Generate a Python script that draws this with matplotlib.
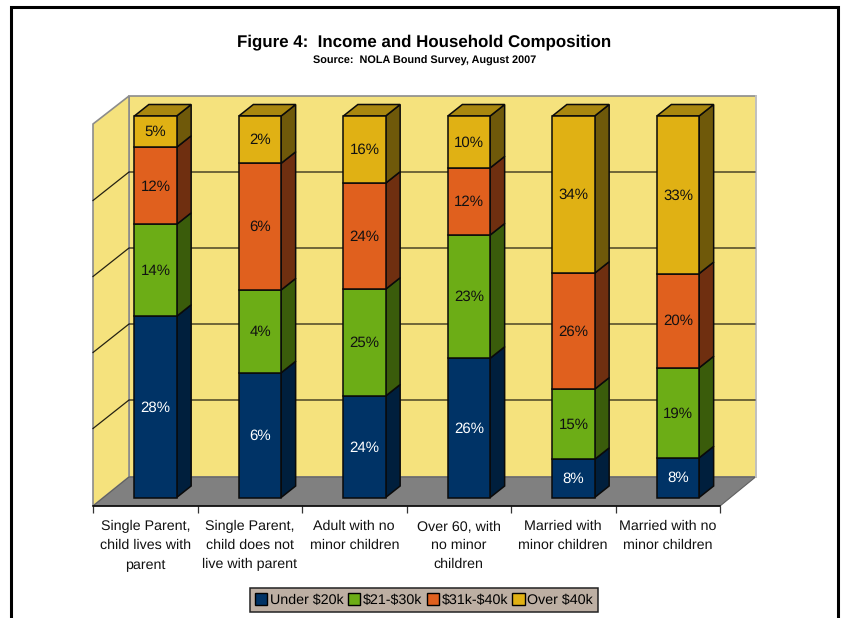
import matplotlib
matplotlib.use("Agg")
import matplotlib.pyplot as plt
from matplotlib.patches import Polygon, Patch

plt.rcParams['font.family'] = ['Liberation Sans', 'DejaVu Sans']
plt.rcParams['text.parse_math'] = False
plt.rcParams['text.hinting'] = 'no_hinting'
plt.rcParams['text.hinting_factor'] = 8

categories = ["Single Parent,\nchild lives with\nparent",
              "Single Parent,\nchild does not\nlive with parent",
              "Adult with no\nminor children",
              "Over 60, with\nno minor\nchildren",
              "Married with\nminor children",
              "Married with no\nminor children"]
series_names = ["Under $20k", "$21-$30k", "$31k-$40k", "Over $40k"]
# bar heights, share of the 100% stack
under20_share = [47.5, 32.7, 26.6, 36.5, 10.0, 10.4]
r21_30_share = [24.1, 21.7, 28.0, 32.3, 18.4, 23.6]
r31_40_share = [20.2, 33.2, 27.8, 17.6, 30.4, 24.7]
over40_share = [8.2, 12.4, 17.6, 13.6, 41.2, 41.3]
# printed labels
under20_label = [28, 6, 24, 26, 8, 8]
r21_30_label = [14, 4, 25, 23, 15, 19]
r31_40_label = [12, 6, 24, 12, 26, 20]
over40_label = [5, 2, 16, 10, 34, 33]

W, H = 843, 618
front = ['#003366', '#6CAD16', '#E0601E', '#E0B114']
side = ['#001F3D', '#3A5C0B', '#6F2F10', '#6F590A']
top_col = '#A9870F'
label_col = ['white', '#111111', '#111111', '#111111']
wall = '#F5E27D'
floor = '#808080'

fig = plt.figure(figsize=(W / 100, H / 100), dpi=100, facecolor='white')

# pixel-space background: frame, walls, floor, gridlines
bg = fig.add_axes([0, 0, 1, 1], zorder=0)
bg.set_xlim(0, W)
bg.set_ylim(H, 0)
bg.axis('off')
bg.plot([11, 11, 838, 838], [H + 5, 7, 7, H + 5], color='black', lw=2.2, solid_joinstyle='miter', clip_on=True)
bg.add_patch(Polygon([(129, 96), (755.5, 96), (755.5, 477), (129, 477)], fc=wall, ec='#8c8c8c', lw=1.2))
bg.add_patch(Polygon([(93, 124), (129, 96), (129, 477), (93, 506)], fc=wall, ec='#8c8c8c', lw=1.2))
bg.add_patch(Polygon([(93, 506), (129, 477), (755.5, 477), (720, 506)], fc=floor, ec='#606060', lw=0.8))
bg.plot([755.5, 755.5], [96, 477], color='#c8c8c8', lw=1.2)
for v in (172, 248, 324, 400):
    bg.plot([93, 129, 755], [v + 28.5, v, v], color='black', lw=0.9, alpha=0.85)

# data axes: x = category index, y = share in percent on the bars' front plane
x0, step = 155.5, 104.5
y0, per = 497.5, 3.815
left_px, right_px, bottom_px, top_px = 93, 755.5, 506, 96
ax = fig.add_axes([left_px / W, 1 - bottom_px / H, (right_px - left_px) / W, (bottom_px - top_px) / H],
                  zorder=1, facecolor='none')
ax.set_xlim((left_px - x0) / step, (right_px - x0) / step)
ax.set_ylim((y0 - bottom_px) / per, (y0 - top_px) / per)

bw = 42.3 / step
ddx, ddy = 14.5 / step, 11.5 / per
shares = [under20_share, r21_30_share, r31_40_share, over40_share]
labels = [under20_label, r21_30_label, r31_40_label, over40_label]
xs = list(range(len(categories)))
bottoms = [0.0] * len(xs)
edge = dict(ec='#0a0a0a', lw=1.1, joinstyle='miter')
for s, (vals, labs) in enumerate(zip(shares, labels)):
    ax.bar(xs, vals, width=bw, bottom=bottoms, color=front[s], edgecolor='#0a0a0a', linewidth=1.1, zorder=3)
    for i, (v, b, lab) in enumerate(zip(vals, bottoms, labs)):
        xr = i + bw / 2
        ax.add_patch(Polygon([(xr, b), (xr + ddx, b + ddy), (xr + ddx, b + v + ddy), (xr, b + v)],
                             fc=side[s], zorder=2.5, clip_on=False, **edge))
        ax.text(i, b + v / 2 - 0.2, f"{lab}%", ha='center', va='center', color=label_col[s], fontsize=10.8, zorder=5)
        if s == len(shares) - 1:
            t = b + v
            ax.add_patch(Polygon([(i - bw / 2, t), (xr, t), (xr + ddx, t + ddy), (i - bw / 2 + ddx, t + ddy)],
                                 fc=top_col, zorder=2.5, clip_on=False, **edge))
    bottoms = [b + v for b, v in zip(bottoms, vals)]

# axis: only the front floor edge, with separators and category labels
for k in ('top', 'left', 'right'):
    ax.spines[k].set_visible(False)
ax.yaxis.set_visible(False)
tick_left = (93 - x0) / step
ax.spines['bottom'].set_bounds(tick_left, (720 - x0) / step)
ax.spines['bottom'].set_linewidth(1.1)
ax.set_xticks([i + tick_left + 0.5 for i in xs])
ax.set_xticklabels(categories, fontsize=10.3, linespacing=1.6, color='#111111')
ax.tick_params(axis='x', which='major', length=0, pad=10)
ax.set_xticks([tick_left + i for i in range(len(xs) + 1)], minor=True)
ax.tick_params(axis='x', which='minor', length=5, width=0.9, color='#333333')

fig.text(424 / W, 1 - 42 / H, "Figure 4:  Income and Household Composition", ha='center', va='center',
         fontsize=12.2, fontweight='bold', color='black')
fig.text(424.5 / W, 1 - 60.5 / H, "Source:  NOLA Bound Survey, August 2007", ha='center', va='center',
         fontsize=7.8, fontweight='bold', color='black')

handles = [Patch(fc=c, ec='black', lw=1) for c in front]
leg = fig.legend(handles, series_names, ncol=4, loc='center', bbox_to_anchor=(424 / W, 1 - 600 / H),
                 fontsize=10.3, fancybox=False, framealpha=1, facecolor='#BDAFA3', edgecolor='#222222',
                 handlelength=0.85, handleheight=0.85, handletextpad=0.2, columnspacing=0.3,
                 borderpad=0.33, borderaxespad=0)
leg.get_frame().set_linewidth(1.1)

fig.savefig('out.png', dpi=100)
